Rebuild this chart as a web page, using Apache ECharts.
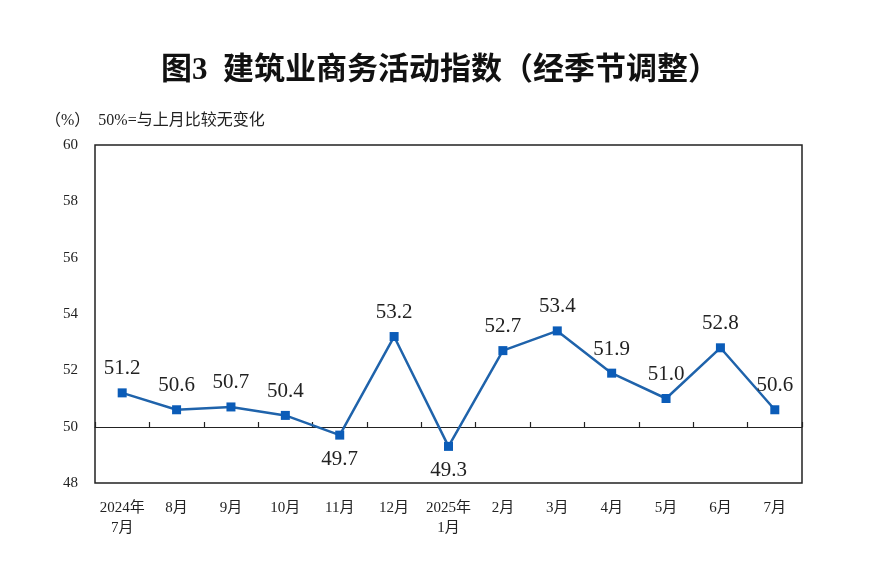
<!DOCTYPE html>
<html>
<head>
<meta charset="utf-8">
<script src="https://cdn.jsdelivr.net/npm/echarts@6/dist/echarts.min.js"></script>
<style>
  html, body { margin: 0; padding: 0; background: #fff; }
  #chart { width: 880px; height: 583px; }
</style>
</head>
<body>
<div id="chart"></div>
<script>
const months = ['2024年\n7月', '8月', '9月', '10月', '11月', '12月', '2025年\n1月', '2月', '3月', '4月', '5月', '6月', '7月'];
const indexValues = [51.2, 50.6, 50.7, 50.4, 49.7, 53.2, 49.3, 52.7, 53.4, 51.9, 51.0, 52.8, 50.6];
const yMin = 48, yMax = 60, yStep = 2;
const noChangeLevel = 50;

const serif = "'Liberation Serif', 'Noto Sans CJK SC', serif";

const chart = echarts.init(document.getElementById('chart'));

chart.setOption({
  animation: false,
  backgroundColor: '#fff',
  title: [
    {
      text: '图3  建筑业商务活动指数（经季节调整）',
      left: 'center',
      top: 50,
      textStyle: { fontFamily: "'Liberation Serif', 'Noto Sans CJK SC'", fontSize: 31, fontWeight: 'bold', color: '#111' }
    },
    {
      text: '（%）  50%=与上月比较无变化',
      left: 40,
      top: 108,
      textStyle: { fontFamily: serif, fontSize: 16, fontWeight: 'normal', color: '#222' }
    }
  ],
  grid: [
    { left: 95, right: 78, top: 145, bottom: 100, show: true, borderColor: '#222', borderWidth: 1.5 },
    // helper grid whose bottom edge sits on the 50 line
    { left: 95, right: 78, top: 145, bottom: 156, show: false }
  ],
  xAxis: [
    {
      type: 'category',
      gridIndex: 0,
      data: months,
      boundaryGap: true,
      axisLine: { show: false },
      axisTick: { show: false },
      axisLabel: { interval: 0, fontFamily: serif, fontSize: 15, color: '#222', margin: 15, lineHeight: 20 }
    },
    {
      type: 'category',
      gridIndex: 1,
      data: months,
      boundaryGap: true,
      axisLine: { show: true, lineStyle: { color: '#222', width: 1.2 } },
      axisTick: { show: true, interval: 0, inside: true, length: 5, lineStyle: { color: '#222', width: 1.2 } },
      axisLabel: { show: false }
    }
  ],
  yAxis: [
    {
      type: 'value',
      gridIndex: 0,
      min: yMin,
      max: yMax,
      interval: yStep,
      axisLine: { show: false },
      axisTick: { show: false },
      splitLine: { show: false },
      axisLabel: { fontFamily: serif, fontSize: 15, color: '#222', margin: 17 }
    },
    { type: 'value', gridIndex: 1, min: noChangeLevel, max: yMax, show: false }
  ],
  series: [
    {
      type: 'line',
      xAxisIndex: 0,
      yAxisIndex: 0,
      data: indexValues.map(v => ({
        value: v,
        label: { position: v < noChangeLevel ? 'bottom' : 'top' }
      })),
      symbol: 'rect',
      symbolSize: 9,
      lineStyle: { color: '#1f63ab', width: 2.5 },
      itemStyle: { color: '#0b5cb8' },
      label: {
        show: true,
        distance: 9,
        fontFamily: serif,
        fontSize: 21,
        color: '#222',
        formatter: p => p.value.toFixed(1)
      },
      z: 5
    }
  ]
});
</script>
</body>
</html>
